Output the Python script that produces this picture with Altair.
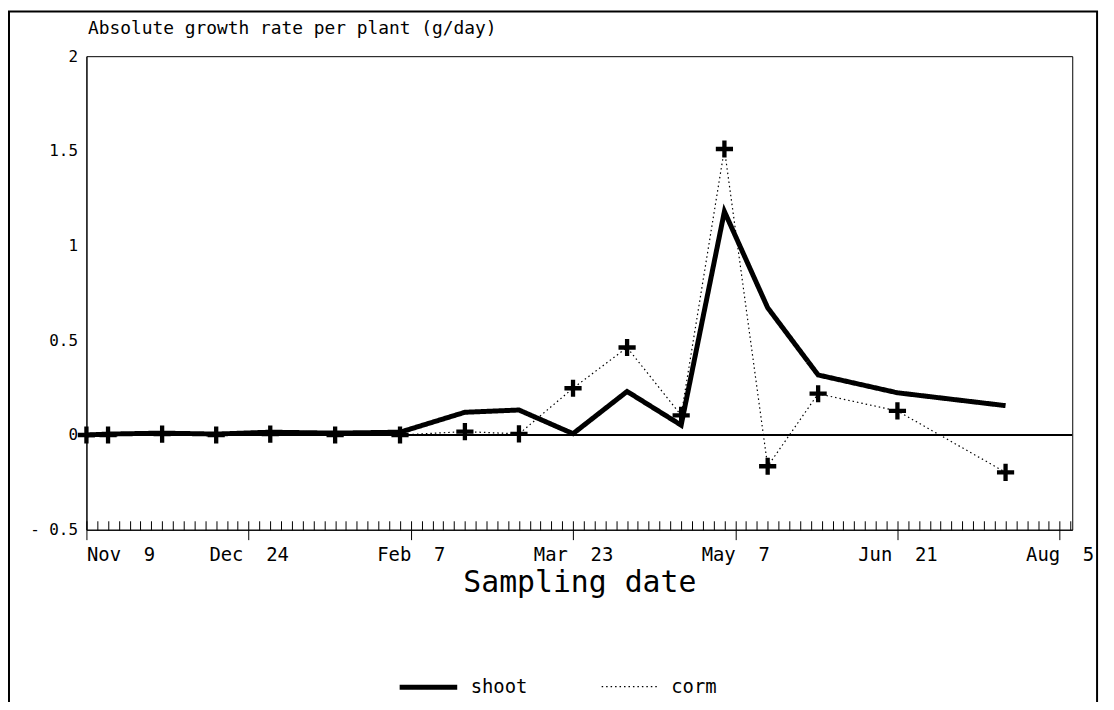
import json
import altair as alt
import pandas as pd

# ---------------- data ----------------
start_date = "1991-11-09"
dates = ["1991-11-09", "1991-11-15", "1991-11-30", "1991-12-15", "1991-12-30",
         "1992-01-17", "1992-02-04", "1992-02-22", "1992-03-08", "1992-03-23",
         "1992-04-07", "1992-04-22", "1992-05-04", "1992-05-16", "1992-05-30",
         "1992-06-21", "1992-07-21"]
shoot = [0.0, 0.005, 0.01, 0.005, 0.015, 0.01, 0.015, 0.12, 0.132, 0.007,
         0.23, 0.052, 1.18, 0.672, 0.317, 0.223, 0.155]
corm = [0.0, 0.0, 0.005, 0.0, 0.005, 0.0, 0.0, 0.018, 0.006, 0.247,
        0.462, 0.104, 1.51, -0.165, 0.218, 0.127, -0.197]

x_tick_dates = ["1991-11-09", "1991-12-24", "1992-02-07", "1992-03-23",
                "1992-05-07", "1992-06-21", "1992-08-05"]
x_tick_labels = ["Nov 9", "Dec 24", "Feb 7", "Mar 23", "May 7", "Jun 21", "Aug 5"]
y_tick_values = [-0.5, 0, 0.5, 1, 1.5, 2]
y_tick_labels = ["- 0.5", "0", "0.5", "1", "1.5", "2"]
series_names = ["shoot", "corm"]

# ---------------- derived tables ----------------
t0 = pd.Timestamp(start_date)
days = [(pd.Timestamp(d) - t0).days for d in dates]
major_days = [(pd.Timestamp(d) - t0).days for d in x_tick_dates]
x_end = 273.5
minor_days = list(range(0, 274, 3))

df = pd.concat([
    pd.DataFrame({"day": days, "value": shoot, "series": "shoot"}),
    pd.DataFrame({"day": days, "value": corm, "series": "corm"}),
], ignore_index=True)
df_corm = df[df["series"] == "corm"]

# ---------------- styling ----------------
W, H = 993, 477
FONT = "DejaVu Sans Mono"
NBSP = "\u00a0"

shown_x_labels = [s.replace(" ", NBSP + " ") for s in x_tick_labels]
xlab_js = json.dumps(shown_x_labels, ensure_ascii=False)
x_label_expr = f"{xlab_js}[indexof({json.dumps(major_days)}, datum.value)]"
ylab_js = json.dumps(y_tick_labels, ensure_ascii=False)
y_label_expr = f"{ylab_js}[round((datum.value + 0.5) * 2)]"

xscale = alt.Scale(domain=[0, x_end], nice=False, zero=False)
yscale = alt.Scale(domain=[-0.5, 2], nice=False, zero=False)

yaxis = alt.Axis(
    values=y_tick_values, labelExpr=y_label_expr, ticks=False, grid=False,
    domainColor="black", labelFont=FONT, labelFontSize=16, labelColor="black",
    labelPadding=9,
    title="Absolute growth rate per plant (g/day)", titleAngle=0,
    titleX=1, titleY=-28, titleAlign="left", titleBaseline="middle",
    titleFont=FONT, titleFontSize=18, titleFontWeight="normal", titleColor="black",
)

x_bottom = alt.Axis(
    values=major_days, labelExpr=x_label_expr, tickSize=10, tickColor="black",
    tickWidth=1, domainColor="black", grid=False, labelFont=FONT,
    labelFontSize=19, labelColor="black", labelPadding=6, labelFlush=False,
    labelAlign=alt.condition("datum.value == 0", alt.value("left"), alt.value("center")),
    title="Sampling date", titleFont=FONT, titleFontSize=30,
    titleFontWeight="normal", titleColor="black", titleY=62,
    titleBaseline="alphabetic",
)

x_minor = alt.Axis(
    orient="top", offset=-H, values=minor_days, labels=False, domain=False,
    tickSize=9, tickColor="black", tickWidth=1, grid=False, title=None,
)

legend = alt.Legend(
    title=None, orient="none", legendX=313, legendY=604, direction="horizontal",
    symbolType="stroke", symbolSize=3364, symbolStrokeColor="black",
    labelFont=FONT, labelFontSize=19, labelColor="black", labelOffset=11,
    columnPadding=71, padding=0,
)

PLUS = "M-1,-0.25H1V0.25H-1Z M-0.25,-1H0.25V1H-0.25Z"

frame = alt.Chart(pd.DataFrame({"k": [0]})).mark_rect(
    fillOpacity=0, stroke="black", strokeWidth=2
).encode(
    x=alt.value(-78), x2=alt.value(W + 25),
    y=alt.value(-45), y2=alt.value(H + 190),
)

zero = alt.Chart(pd.DataFrame({"k": [0]})).mark_rule(
    color="black", strokeWidth=1.8
).encode(
    x=alt.X(datum=0, type="quantitative", scale=xscale, axis=x_minor),
    x2=alt.datum(x_end),
    y=alt.Y(datum=0, type="quantitative", scale=yscale, axis=yaxis),
)

lines = alt.Chart(df).mark_line(color="black").encode(
    x=alt.X("day:Q", scale=xscale, axis=x_bottom),
    y=alt.Y("value:Q", scale=yscale, axis=yaxis),
    strokeDash=alt.StrokeDash("series:N",
                              scale=alt.Scale(domain=series_names, range=[[1, 0], [1.5, 3]]),
                              legend=legend),
    strokeWidth=alt.StrokeWidth("series:N",
                                scale=alt.Scale(domain=series_names, range=[5, 1.2]),
                                legend=legend),
)

pts = alt.Chart(df_corm).mark_point(
    shape=PLUS, filled=True, color="black", size=300, opacity=1
).encode(
    x=alt.X("day:Q", scale=xscale, axis=x_bottom),
    y=alt.Y("value:Q", scale=yscale, axis=yaxis),
)

chart = alt.layer(frame, zero, alt.layer(lines, pts)).resolve_scale(
    x="independent"
).properties(
    width=W, height=H, autosize="none",
    padding={"left": 79, "top": 46, "right": 34, "bottom": 171},
    background="white",
).configure_view(stroke="black", strokeWidth=1)

chart.save("out.html", embed_options={"renderer": "svg", "actions": False})
